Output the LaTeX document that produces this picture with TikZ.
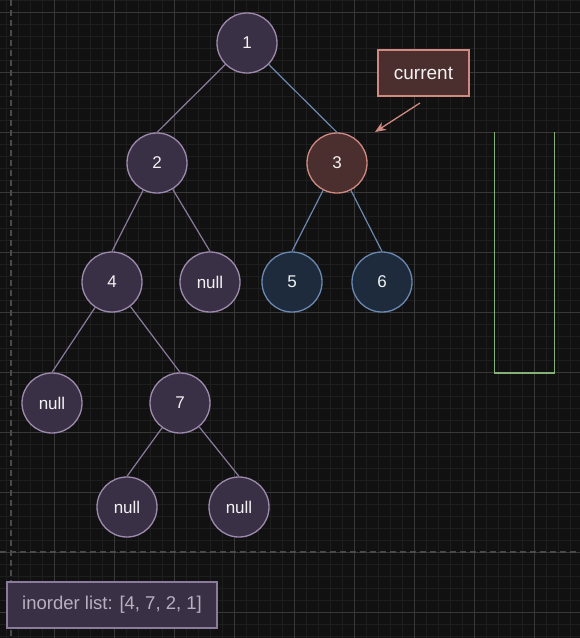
\documentclass[tikz,border=0pt]{standalone}
\usepackage{fontspec}
\setmainfont{Liberation Sans}
\usetikzlibrary{arrows.meta}
\definecolor{bg}{HTML}{111111}
\definecolor{gridminor}{HTML}{1E1E1E}
\definecolor{gridmajor}{HTML}{383838}
\definecolor{dashcol}{HTML}{4A4A4A}
\definecolor{purfill}{HTML}{3A3045}
\definecolor{purline}{HTML}{9E8AAE}
\definecolor{puredge}{HTML}{8A7A9C}
\definecolor{redfill}{HTML}{4B2E2E}
\definecolor{redline}{HTML}{D08A82}
\definecolor{bluefill}{HTML}{1D2B3D}
\definecolor{blueline}{HTML}{6A88B0}
\definecolor{greenline}{HTML}{86B07A}
\definecolor{txt}{HTML}{F2F2F2}
\definecolor{listtxt}{HTML}{B8B0C0}
\begin{document}
\begin{tikzpicture}[x=1pt,y=-1pt,
  treenode/.style={circle,minimum size=60pt,inner sep=0pt,line width=1.3pt,draw=purline,fill=purfill,text=txt,font=\fontsize{17}{20}\selectfont},
  curnode/.style={treenode,draw=redline,fill=redfill},
  bluenode/.style={treenode,draw=blueline,fill=bluefill},
  pedge/.style={draw=puredge,line width=1.2pt},
  bedge/.style={draw=blueline,line width=1.2pt}]
\fill[bg] (0,0) rectangle (580,638);
\useasboundingbox (0,0) rectangle (580,638);
% grid
\foreach \x in {6,18,...,580} \draw[gridminor,line width=0.8pt] (\x,0) -- (\x,638);
\foreach \y in {0,12,...,638} \draw[gridminor,line width=0.8pt] (0,\y) -- (580,\y);
\foreach \x in {54,114,...,580} \draw[gridmajor,line width=0.9pt] (\x,0) -- (\x,638);
\foreach \y in {12,72,...,638} \draw[gridmajor,line width=0.9pt] (0,\y) -- (580,\y);
\draw[dashcol,line width=1.2pt,dash pattern=on 6pt off 4pt] (11,0) -- (11,638);
\draw[dashcol,line width=1.2pt,dash pattern=on 6pt off 4pt] (0,552) -- (580,552);
% edges (drawn first, nodes on top)
\begin{scope}[on background layer/.style={}]
\end{scope}
% nodes
\node[treenode] (n1) at (247,43) {1};
\node[treenode] (n2) at (157,163) {2};
\node[curnode] (n3) at (337,163) {3};
\node[treenode] (n4) at (112,282) {4};
\node[treenode] (n2r) at (210,282) {null};
\node[bluenode] (n5) at (292,282) {5};
\node[bluenode] (n6) at (382,282) {6};
\node[treenode] (n4l) at (52,403) {null};
\node[treenode] (n7) at (180,403) {7};
\node[treenode] (n7l) at (127,507) {null};
\node[treenode] (n7r) at (239,507) {null};
% edges: from parent border to child top
\draw[pedge] (n1) -- (n2.north);
\draw[bedge] (n1) -- (n3.north);
\draw[pedge] (n2) -- (n4.north);
\draw[pedge] (n2) -- (n2r.north);
\draw[bedge] (n3) -- (n5.north);
\draw[bedge] (n3) -- (n6.north);
\draw[pedge] (n4) -- (n4l.north);
\draw[pedge] (n4) -- (n7.north);
\draw[pedge] (n7) -- (n7l.north);
\draw[pedge] (n7) -- (n7r.north);
% current label
\node[draw=redline,fill=redfill,line width=1.2pt,minimum width=91pt,minimum height=46pt,inner sep=0pt,text=txt,font=\fontsize{19}{22}\selectfont] (cur) at (423.5,73) {current};
\coordinate (curtail) at (420,103);
\coordinate (curhead) at (375,132);
\draw[redline,line width=1.3pt,-{Stealth[length=11pt,width=9pt]}] (curtail) -- (curhead);
% stack
\draw[greenline,line width=1.3pt] (494.5,132) -- (494.5,373) -- (554.5,373) -- (554.5,132);
% inorder list
\node[draw=puredge,fill=purfill,line width=1.2pt,minimum width=210pt,minimum height=46pt,inner sep=0pt,text=listtxt,font=\fontsize{18.5}{22}\selectfont] (lst) at (112,605) {inorder list: [4, 7, 2, 1]};
\end{tikzpicture}
\end{document}
